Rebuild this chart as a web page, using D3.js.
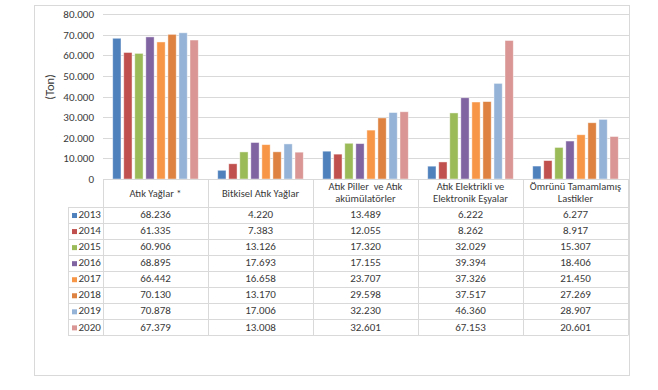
<!DOCTYPE html>
<html><head><meta charset="utf-8">
<script src="https://cdn.jsdelivr.net/npm/d3@7"></script>
<style>
html,body{margin:0;padding:0;background:#fff;}
text{font-family:Carlito,Lato,"Liberation Sans",sans-serif;fill:#3a3a3a;white-space:pre;}
</style></head>
<body><svg id="c" width="658" height="390"></svg>
<script>
const categories = ["Atık Yağlar *", "Bitkisel Atık Yağlar", "Atık Piller  ve Atık\nakümülatörler", "Atık Elektrikli ve\nElektronik Eşyalar", "Ömrünü Tamamlamış\nLastikler"];
const years = ["2013","2014","2015","2016","2017","2018","2019","2020"];
const v2013 = [68236, 4220, 13489, 6222, 6277];
const v2014 = [61335, 7383, 12055, 8262, 8917];
const v2015 = [60906, 13126, 17320, 32029, 15307];
const v2016 = [68895, 17693, 17155, 39394, 18406];
const v2017 = [66442, 16658, 23707, 37326, 21450];
const v2018 = [70130, 13170, 29598, 37517, 27269];
const v2019 = [70878, 17006, 32230, 46360, 28907];
const v2020 = [67379, 13008, 32601, 67153, 20601];
const yTicks = [0,10000,20000,30000,40000,50000,60000,70000,80000];
const colors = ["#4F81BD","#C0504D","#9BBB59","#8064A2","#F79646","#DD8240","#95B3D7","#D99694"];

const series = [v2013,v2014,v2015,v2016,v2017,v2018,v2019,v2020];
const loc = d3.formatLocale({decimal:",", thousands:".", grouping:[3], currency:["",""]});
const fmt = loc.format(",d");

const svg = d3.select("#c");
svg.append("rect").attr("x",34.5).attr("y",5.5).attr("width",595).attr("height",370)
  .attr("fill","#fff").attr("stroke","#D9D9D9");

const L = 103, R = 628, T = 14, B = 179;
const x0 = d3.scaleBand().domain(categories.map((d,i)=>i)).range([L,R]);
const x1 = d3.scaleBand().domain(years).range([0,x0.bandwidth()]).paddingInner(0.25).paddingOuter(0.88);
const y = d3.scaleLinear().domain([0,80000]).range([B,T]);

svg.append("g").selectAll("line").data(yTicks.slice(1)).join("line")
  .attr("x1",L).attr("x2",R+1).attr("y1",d=>Math.round(y(d))+0.5).attr("y2",d=>Math.round(y(d))+0.5)
  .attr("stroke","#D9D9D9");

const ax = d3.axisLeft(y).tickValues(yTicks).tickFormat(fmt).tickSize(0).tickPadding(9);
const gA = svg.append("g").attr("transform",`translate(${L},0)`).call(ax);
gA.select(".domain").remove();
gA.selectAll("text").attr("font-size",11).style("font-family","Carlito,Lato,'Liberation Sans',sans-serif").attr("fill","#3a3a3a");

svg.append("text").attr("transform",`translate(54,87) rotate(-90)`).attr("text-anchor","middle")
  .attr("font-size",12.5).text("(Ton)");

years.forEach((yr,j)=>{
  svg.append("g").selectAll("rect").data(series[j]).join("rect")
    .attr("x",(d,i)=>x0(i)+x1(yr)).attr("width",x1.bandwidth())
    .attr("y",d=>y(d)).attr("height",d=>B-y(d))
    .attr("fill",colors[j]).attr("stroke","#fff").attr("stroke-opacity",0.55).attr("stroke-width",0.8);
});

const hTop = B, hBot = 207, rowH = 16.05, legL = 68;
const tb = svg.append("g");
const gc = "#D9D9D9";
tb.append("line").attr("x1",L).attr("x2",R).attr("y1",hTop+0.5).attr("y2",hTop+0.5).attr("stroke",gc);
for(let k=0;k<=years.length;k++){
  const yy = Math.round(hBot+k*rowH)+0.5;
  tb.append("line").attr("x1",legL).attr("x2",R).attr("y1",yy).attr("y2",yy).attr("stroke",gc);
}
const tBot = Math.round(hBot+years.length*rowH)+0.5;
categories.forEach((c,i)=>{
  const xx = Math.round(x0(i))+0.5;
  tb.append("line").attr("x1",xx).attr("x2",xx).attr("y1",hTop).attr("y2",tBot).attr("stroke",gc);
});
tb.append("line").attr("x1",R+0.5).attr("x2",R+0.5).attr("y1",hTop).attr("y2",tBot).attr("stroke",gc);
tb.append("line").attr("x1",legL+0.5).attr("x2",legL+0.5).attr("y1",hBot).attr("y2",tBot).attr("stroke",gc);

categories.forEach((c,i)=>{
  const lines = c.split("\n");
  const cx = x0(i)+x0.bandwidth()/2;
  if(lines.length===1){
    tb.append("text").attr("x",cx).attr("y",194).attr("text-anchor","middle")
      .attr("dominant-baseline","middle").attr("font-size",10.5).text(lines[0]);
  } else {
    lines.forEach((ln,k)=>{
      tb.append("text").attr("x",cx).attr("y",187+k*12.6).attr("text-anchor","middle")
        .attr("dominant-baseline","middle").attr("font-size",10.5).text(ln);
    });
  }
});

years.forEach((yr,j)=>{
  const cy = hBot + j*rowH + rowH/2 + 0.5;
  tb.append("rect").attr("x",72).attr("y",cy-2.5).attr("width",5).attr("height",5).attr("fill",colors[j]);
  tb.append("text").attr("x",78.5).attr("y",cy).attr("dominant-baseline","middle").attr("font-size",11).text(yr);
  series[j].forEach((v,i)=>{
    tb.append("text").attr("x",x0(i)+x0.bandwidth()/2).attr("y",cy).attr("text-anchor","middle")
      .attr("dominant-baseline","middle").attr("font-size",11).text(fmt(v));
  });
});
</script></body></html>
